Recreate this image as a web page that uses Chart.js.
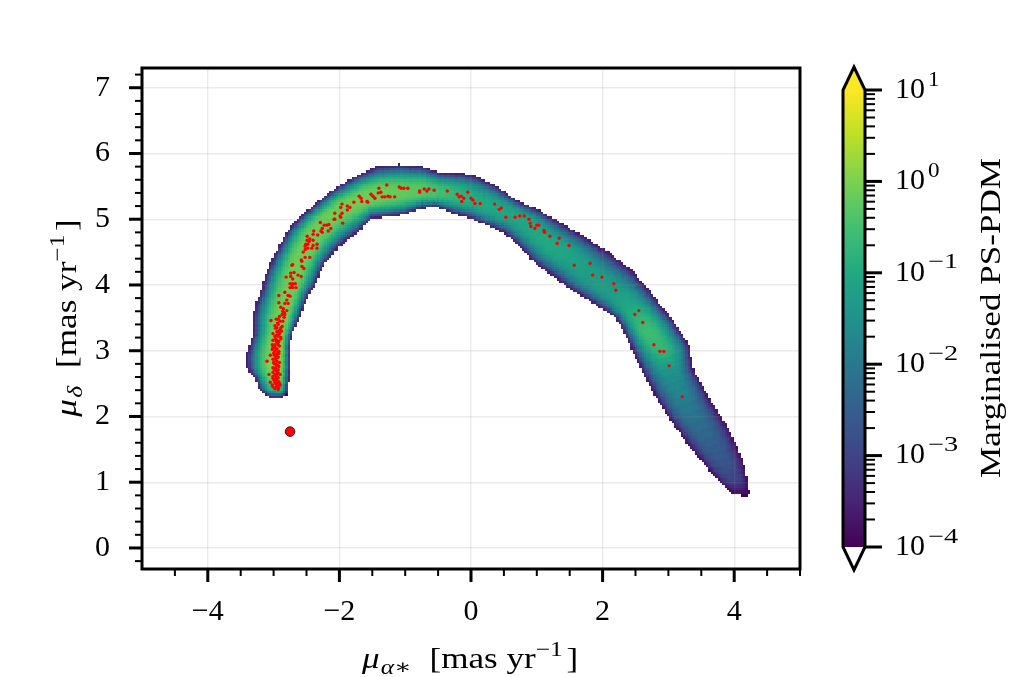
<!DOCTYPE html>
<html>
<head>
<meta charset="utf-8">
<style>
  html, body { margin: 0; padding: 0; background: #fff; overflow: hidden; }
  canvas { position: absolute; left: 0; top: 0; }
</style>
<script src="https://cdn.jsdelivr.net/npm/chart.js@4"></script>
</head>
<body>
<canvas id="main" width="1015" height="677"></canvas>
<canvas id="bar" width="1015" height="677"></canvas>
<script>
// axis ticks
const xMajor = [-4, -2, 0, 2, 4];
const xLabels = ['−4', '−2', '0', '2', '4'];
const xMinor = [-4.5, -3.5, -3, -2.5, -1.5, -1, -0.5, 0.5, 1, 1.5, 2.5, 3, 3.5, 4.5, 5];
const yMajor = [0, 1, 2, 3, 4, 5, 6, 7];
const yMinor = [-0.2, 0.2, 0.4, 0.6, 0.8, 1.2, 1.4, 1.6, 1.8, 2.2, 2.4, 2.6, 2.8, 3.2, 3.4, 3.6, 3.8,
                4.2, 4.4, 4.6, 4.8, 5.2, 5.4, 5.6, 5.8, 6.2, 6.4, 6.6, 6.8, 7.2];
const cbMajor = [1e-4, 1e-3, 1e-2, 1e-1, 1, 10];
const cbExponents = ['−4', '−3', '−2', '−1', '0', '1'];
const cbMultiples = [2, 3, 4, 5, 6, 7, 8, 9];

// density band, read as cross sections: outer edge, ridge, inner edge, log10 density on the ridge
const outerX = [-3.12, -3.21, -3.28, -3.39, -3.40, -3.36, -3.30, -3.30, -3.27, -3.19, -3.12, -3.01, -2.80, -2.60, -2.14, -1.73, -1.43, -1.08, -0.73, -0.47, -0.12, 0.09, 0.40, 0.70, 1.05, 1.35, 1.70, 2.07, 2.42, 2.67, 2.87, 3.05, 3.30, 3.37, 3.60, 3.94, 4.13, 4.19, 4.21];
const outerY = [2.32, 2.42, 2.59, 2.74, 2.93, 3.08, 3.25, 3.51, 3.69, 3.89, 4.15, 4.39, 4.80, 5.03, 5.41, 5.66, 5.79, 5.82, 5.79, 5.70, 5.69, 5.64, 5.49, 5.27, 5.12, 4.94, 4.74, 4.50, 4.24, 3.96, 3.70, 3.48, 3.09, 2.71, 2.30, 1.75, 1.30, 0.99, 0.81];
const ridgeX = [-2.96, -2.96, -2.96, -2.95, -2.93, -2.92, -2.90, -2.86, -2.81, -2.75, -2.66, -2.57, -2.40, -2.22, -1.96, -1.57, -1.35, -1.08, -0.73, -0.47, -0.17, 0.06, 0.32, 0.59, 0.90, 1.20, 1.50, 1.81, 2.14, 2.39, 2.57, 2.71, 2.93, 3.05, 3.25, 3.60, 3.86, 4.01, 4.09];
const ridgeY = [2.30, 2.41, 2.59, 2.79, 2.99, 3.14, 3.32, 3.52, 3.70, 3.93, 4.21, 4.44, 4.77, 4.97, 5.17, 5.34, 5.38, 5.40, 5.43, 5.40, 5.35, 5.29, 5.18, 5.08, 4.89, 4.62, 4.42, 4.13, 3.89, 3.66, 3.45, 3.25, 2.97, 2.64, 2.18, 1.65, 1.22, 0.99, 0.81];
const innerX = [-2.83, -2.80, -2.78, -2.77, -2.77, -2.77, -2.74, -2.64, -2.57, -2.49, -2.36, -2.25, -2.04, -1.88, -1.72, -1.50, -1.26, -1.03, -0.73, -0.52, -0.24, -0.02, 0.26, 0.52, 0.71, 0.97, 1.23, 1.58, 1.96, 2.20, 2.29, 2.39, 2.52, 2.72, 2.98, 3.33, 3.63, 3.81, 3.98];
const innerY = [2.32, 2.38, 2.59, 2.79, 2.99, 3.08, 3.23, 3.45, 3.63, 3.83, 4.04, 4.30, 4.56, 4.70, 4.80, 5.03, 5.05, 5.08, 5.18, 5.20, 5.09, 5.03, 4.91, 4.79, 4.62, 4.34, 4.15, 3.90, 3.67, 3.51, 3.37, 3.17, 2.87, 2.47, 2.03, 1.54, 1.19, 0.98, 0.82];
const ridgeLog = [-3.5, -0.7, 0.05, 0.1, 0.1, 0.05, 0, -0.05, -0.1, -0.1, -0.1, -0.1, -0.1, -0.1, -0.1, -0.1, -0.1, -0.2, -0.3, -0.5, -0.75, -0.9, -1.0, -1.05, -1.0, -0.95, -1.1, -1.2, -1.25, -1.0, -0.7, -0.55, -0.75, -1.5, -1.9, -2.4, -2.7, -3.0, -3.8];

// stars
const starX = [-1.28, -1.40, -1.70, -1.67, -1.66, -1.58, -1.57, -1.52, -1.49, -1.46, -1.41, -1.37, -1.35, -1.31, -1.26, -1.23, -1.16, -1.78, -1.96, -1.88, -1.84, -1.98, -1.88, -1.96, -2.07, -1.99, -1.98, -2.08, -2.07, -1.95, -2.29, -2.23, -2.19, -2.16, -2.13, -2.17, -2.26, -2.28, -2.26, -2.39, -2.40, -2.33, -2.49, -2.49, -2.45, -2.40, -2.46, -2.51, -2.48, -2.52, -2.40, -2.34, -2.34, -2.42, -2.48, -2.52, -2.55, -2.45, -2.52, -2.58, -2.57, -2.71, -2.72, -2.57, -2.54, -2.74, -2.69, -2.63, -2.58, -2.74, -2.81, -2.71, -2.75, -2.71, -2.67, -2.75, -2.71, -2.66, -2.72, -2.78, -2.75, -2.92, -2.83, -2.92, -2.80, -2.83, -2.78, -2.86, -2.80, -2.87, -2.83, -2.84, -3.04, -2.96, -2.90, -2.86, -2.98, -2.93, -2.87, -2.90, -3.01, -2.95, -2.90, -2.98, -2.93, -2.89, -3.01, -2.95, -2.92, -3.02, -2.98, -2.93, -3.01, -3.02, -2.95, -3.05, -2.99, -2.95, -2.93, -3.01, -2.98, -3.10, -2.95, -2.99, -2.96, -2.92, -3.01, -2.98, -3.01, -2.95, -3.07, -2.98, -2.95, -3.01, -2.96, -2.93, -2.99, -2.95, -2.92, -3.02, -2.98, -2.95, -3.01, -2.96, -2.92, -2.93, -2.98, -3.05, -2.93, -2.90, -3.01, -2.96, -2.93, -2.90, -2.99, -2.96, -2.92, -2.98, -2.93, -2.84, -2.95, -2.92, -2.96, -2.99, -2.89, -2.97, -2.94, -2.91, -2.99, -2.96, -2.93, -2.97, -2.94, -3.00, -2.91, -2.97, -2.94, -3.00, -2.92, -2.96, -2.98, -2.91, -2.94, -2.97, -2.89, -2.95, -2.92, -2.97, -2.88, -2.94, -2.91, -2.85, -2.89, -1.09, -1.06, -1.02, -0.96, -0.78, -0.78, -0.71, -0.67, -0.64, -0.56, -0.36, -0.21, -0.15, -0.18, -0.11, -0.14, -0.05, 0.00, 0.03, 0.06, 0.14, 0.36, 0.46, 0.43, 0.53, 0.67, 0.74, 0.81, 0.88, 0.90, 0.91, 1.00, 1.03, 0.97, 1.11, 1.12, 1.20, 1.34, 1.31, 1.49, 1.57, 1.81, 1.85, 1.99, 2.17, 2.20, 2.55, 2.49, 2.61, 2.78, 2.87, 2.93, 3.01, 3.21];
const starY = [5.52, 5.47, 5.35, 5.32, 5.27, 5.27, 5.26, 5.38, 5.35, 5.32, 5.40, 5.41, 5.34, 5.34, 5.35, 5.34, 5.34, 5.26, 5.23, 5.20, 5.18, 5.18, 5.14, 5.09, 5.09, 5.05, 5.03, 5.00, 5.00, 4.94, 4.95, 4.91, 4.91, 4.92, 4.86, 4.82, 4.86, 4.82, 4.80, 4.82, 4.77, 4.76, 4.74, 4.68, 4.70, 4.68, 4.66, 4.62, 4.62, 4.59, 4.60, 4.62, 4.56, 4.56, 4.56, 4.54, 4.50, 4.42, 4.42, 4.38, 4.36, 4.31, 4.30, 4.28, 4.25, 4.18, 4.19, 4.15, 4.13, 4.13, 4.12, 4.09, 4.02, 4.02, 4.02, 3.96, 3.96, 3.96, 3.98, 3.84, 3.83, 3.84, 3.89, 3.73, 3.77, 3.72, 3.72, 3.60, 3.61, 3.55, 3.55, 3.51, 3.46, 3.48, 3.45, 3.45, 3.38, 3.40, 3.37, 3.32, 3.26, 3.29, 3.28, 3.22, 3.22, 3.20, 3.16, 3.16, 3.14, 3.09, 3.09, 3.09, 3.05, 3.02, 3.03, 2.93, 2.93, 2.94, 2.90, 2.87, 2.87, 2.84, 2.84, 2.80, 2.79, 2.76, 2.74, 2.73, 2.67, 2.68, 2.64, 2.64, 2.64, 2.61, 2.59, 2.59, 2.55, 2.55, 2.53, 2.48, 2.52, 2.48, 2.45, 2.45, 2.44, 2.41, 2.42, 2.52, 2.52, 2.48, 2.58, 2.70, 2.71, 2.64, 2.71, 2.90, 2.99, 2.99, 3.48, 3.58, 3.35, 3.25, 3.14, 3.05, 3.35, 2.50, 2.46, 2.50, 2.56, 2.62, 2.66, 2.74, 2.78, 2.82, 2.82, 2.88, 2.96, 2.96, 2.96, 3.02, 3.07, 3.07, 3.12, 3.18, 3.18, 3.24, 3.30, 3.34, 3.30, 3.42, 3.52, 3.64, 3.66, 5.49, 5.47, 5.47, 5.47, 5.43, 5.41, 5.46, 5.43, 5.46, 5.44, 5.43, 5.38, 5.35, 5.34, 5.32, 5.27, 5.41, 5.32, 5.29, 5.24, 5.24, 5.23, 5.17, 5.15, 5.03, 5.03, 5.05, 5.05, 5.00, 4.94, 4.89, 4.91, 4.91, 4.86, 4.83, 4.80, 4.74, 4.71, 4.63, 4.60, 4.30, 4.33, 4.15, 4.12, 4.02, 3.92, 3.61, 3.55, 3.43, 3.09, 2.99, 2.99, 2.77, 2.30];
const clusterX = [-2.75];
const clusterY = [1.77];

const viridisStops = ['#440154', '#482475', '#414487', '#355f8d', '#2a788e', '#21918c', '#22a884', '#44bf70', '#7ad151', '#bddf26', '#fde725'];

const serif = '"Liberation Serif", "DejaVu Serif", serif';
const INK = '#000';

function hexToRgb(h) {
    return [parseInt(h.slice(1, 3), 16), parseInt(h.slice(3, 5), 16), parseInt(h.slice(5, 7), 16)];
}

function viridis(t) {
    t = Math.max(0, Math.min(1, t)) * (viridisStops.length - 1);
    const i = Math.min(Math.floor(t), viridisStops.length - 2);
    const a = hexToRgb(viridisStops[i]), b = hexToRgb(viridisStops[i + 1]), f = t - i;
    return `rgb(${a.map((v, k) => Math.round(v + (b[k] - v) * f)).join(',')})`;
}

// tone between 0 (edge) and the ridge value, dropping fast near the edge
function tone(peakLog, u) {
    const peak = (peakLog + 4) / 5;
    const floor = Math.min(0.03, peak);
    return peak - (peak - floor) * Math.pow(1 - u, 2.6);
}

function quad(g, pts, color) {
    g.fillStyle = color;
    g.strokeStyle = color;
    g.lineWidth = 0.6;
    g.lineJoin = 'round';
    g.beginPath();
    pts.forEach((p, i) => i ? g.lineTo(p[0], p[1]) : g.moveTo(p[0], p[1]));
    g.closePath();
    g.fill();
    g.stroke();
}

// paint the band on a coarse grid so it keeps the blocky edge of a 2d histogram
function drawBand(chart) {
    const sx = chart.scales.x, sy = chart.scales.y;
    const cell = 2.3;
    const off = document.createElement('canvas');
    off.width = Math.ceil(chart.width / cell);
    off.height = Math.ceil(chart.height / cell);
    const g = off.getContext('2d');
    const P = (x, y) => [sx.getPixelForValue(x) / cell, sy.getPixelForValue(y) / cell];
    const steps = 4, strips = 14;
    const mix = (a, b, f) => a + (b - a) * f;
    const side = (ex, ey, i, f, u) => {
        const ax = mix(ex[i], ex[i + 1], f), ay = mix(ey[i], ey[i + 1], f);
        const rx = mix(ridgeX[i], ridgeX[i + 1], f), ry = mix(ridgeY[i], ridgeY[i + 1], f);
        return P(mix(ax, rx, u), mix(ay, ry, u));
    };
    for (let i = 0; i < ridgeX.length - 1; i++) {
        for (let s = 0; s < steps; s++) {
            const f0 = s / steps, f1 = (s + 1) / steps;
            const peak = mix(ridgeLog[i], ridgeLog[i + 1], (f0 + f1) / 2);
            for (let k = 0; k < strips; k++) {
                const u0 = k / strips, u1 = (k + 1) / strips;
                const c = viridis(tone(peak, (u0 + u1) / 2));
                quad(g, [side(outerX, outerY, i, f0, u0), side(outerX, outerY, i, f1, u0), side(outerX, outerY, i, f1, u1), side(outerX, outerY, i, f0, u1)], c);
                quad(g, [side(innerX, innerY, i, f0, u0), side(innerX, innerY, i, f1, u0), side(innerX, innerY, i, f1, u1), side(innerX, innerY, i, f0, u1)], c);
            }
        }
    }
    const img = g.getImageData(0, 0, off.width, off.height);
    for (let p = 3; p < img.data.length; p += 4) img.data[p] = img.data[p] > 128 ? 255 : 0;
    g.putImageData(img, 0, 0);
    const ctx = chart.ctx;
    ctx.save();
    ctx.imageSmoothingEnabled = false;
    ctx.drawImage(off, 0, 0, off.width * cell, off.height * cell);
    ctx.restore();
}

function drawTicks(ctx, scale, majors, horizontal, baseline, dir, majorLen, minorLen) {
    ctx.strokeStyle = INK;
    scale.ticks.forEach(t => {
        const isMajor = majors.includes(t.value);
        const pos = scale.getPixelForValue(t.value);
        ctx.lineWidth = isMajor ? 3 : 2;
        const len = isMajor ? majorLen : minorLen;
        ctx.beginPath();
        if (horizontal) { ctx.moveTo(pos, baseline); ctx.lineTo(pos, baseline + dir * len); }
        else { ctx.moveTo(baseline, pos); ctx.lineTo(baseline + dir * len, pos); }
        ctx.stroke();
    });
}

// mixed-size label written piece by piece, centred on (x, y); stretched a bit to the wider look of the original face
function drawLabel(ctx, pieces, x, y, rotation) {
    const stretch = 1.21;
    ctx.save();
    ctx.translate(x, y);
    ctx.rotate(rotation);
    ctx.scale(stretch, 1);
    ctx.fillStyle = INK;
    ctx.textBaseline = 'alphabetic';
    ctx.textAlign = 'left';
    let total = 0;
    pieces.forEach(p => { ctx.font = p.font; total += ctx.measureText(p.text).width + (p.gap || 0); });
    let at = -total / 2;
    pieces.forEach(p => {
        ctx.font = p.font;
        ctx.fillText(p.text, at, p.dy || 0);
        at += ctx.measureText(p.text).width + (p.gap || 0);
    });
    ctx.restore();
}

const big = `29px ${serif}`, bigItalic = `italic 29px ${serif}`;
const small = `21px ${serif}`, smallItalic = `italic 21px ${serif}`;
const unitPieces = [
    { text: '[mas yr', font: big },
    { text: '−1', font: small, dy: -12, gap: 3 },
    { text: ']', font: big }
];
const xTitle = [{ text: 'μ', font: bigItalic, gap: 1 }, { text: 'α∗', font: smallItalic, dy: 6, gap: 15 }, ...unitPieces];
const yTitle = [{ text: 'μ', font: bigItalic, gap: 1 }, { text: 'δ', font: smallItalic, dy: 6, gap: 15 }, ...unitPieces];

const framePlugin = {
    id: 'frame',
    beforeDraw(chart) { drawBand(chart); },
    afterDraw(chart) {
        const ctx = chart.ctx, a = chart.chartArea;
        ctx.save();
        drawTicks(ctx, chart.scales.x, xMajor, true, a.bottom, 1, 13, 7);
        drawTicks(ctx, chart.scales.y, yMajor, false, a.left, -1, 13, 7);
        ctx.strokeStyle = INK;
        ctx.lineWidth = 3;
        ctx.strokeRect(a.left, a.top, a.right - a.left, a.bottom - a.top);
        ctx.restore();
        drawLabel(ctx, xTitle, 470, 668, 0);
        drawLabel(ctx, yTitle, 76, 318, -Math.PI / 2);
    }
};

function setTicks(majors, minors) {
    return scale => {
        scale.ticks = [...majors, ...minors].sort((a, b) => a - b).map(v => ({ value: v }));
    };
}

new Chart(document.getElementById('main'), {
    type: 'scatter',
    data: {
        datasets: [
            {
                label: 'stars',
                data: starX.map((x, i) => ({ x, y: starY[i] })),
                backgroundColor: '#ff0000',
                borderWidth: 0,
                pointRadius: 1.7
            },
            {
                label: 'cluster',
                data: clusterX.map((x, i) => ({ x, y: clusterY[i] })),
                backgroundColor: '#ff0000',
                borderColor: '#222',
                borderWidth: 1,
                pointRadius: 4.8
            }
        ]
    },
    options: {
        responsive: false,
        animation: false,
        devicePixelRatio: 1,
        layout: { padding: { top: 68, right: 215, left: 0, bottom: 0 } },
        plugins: { legend: { display: false }, tooltip: { enabled: false } },
        scales: {
            x: {
                type: 'linear', min: -5, max: 5,
                afterBuildTicks: setTicks(xMajor, xMinor),
                afterFit: s => { s.height = 108; },
                border: { display: false },
                grid: {
                    drawTicks: false,
                    lineWidth: 1.4,
                    color: c => xMajor.includes(c.tick.value) ? 'rgba(130,130,130,0.16)' : 'transparent'
                },
                ticks: {
                    autoSkip: false, maxRotation: 0, padding: 25,
                    color: INK,
                    font: { family: serif, size: 30 },
                    callback: v => { const i = xMajor.indexOf(v); return i < 0 ? '' : xLabels[i]; }
                }
            },
            y: {
                type: 'linear', min: -0.32, max: 7.3,
                afterBuildTicks: setTicks(yMajor, yMinor),
                afterFit: s => { s.width = 142; },
                border: { display: false },
                grid: {
                    drawTicks: false,
                    lineWidth: 1.4,
                    color: c => yMajor.includes(c.tick.value) ? 'rgba(130,130,130,0.16)' : 'transparent'
                },
                ticks: {
                    autoSkip: false, padding: 32,
                    color: INK,
                    font: { family: serif, size: 30 },
                    callback: v => { const i = yMajor.indexOf(v); return i < 0 ? '' : String(yMajor[i]); }
                }
            }
        }
    },
    plugins: [framePlugin]
});

// colour bar
const cbMinor = cbMajor.slice(0, -1).flatMap(d => cbMultiples.map(m => d * m));

function barGradient(c) {
    const chart = c.chart;
    if (!chart.chartArea) return viridisStops[0];
    const a = chart.chartArea;
    const grad = chart.ctx.createLinearGradient(0, a.bottom, 0, a.top);
    viridisStops.forEach((col, i) => grad.addColorStop(i / (viridisStops.length - 1), col));
    return grad;
}

const barFrame = {
    id: 'barFrame',
    afterDraw(chart) {
        const ctx = chart.ctx, a = chart.chartArea, sy = chart.scales.y;
        const mid = (a.left + a.right) / 2;
        ctx.save();
        drawTicks(ctx, sy, cbMajor, false, a.right, 1, 17, 10);
        ctx.lineJoin = 'miter';
        ctx.beginPath();
        ctx.moveTo(a.left, a.top); ctx.lineTo(mid, a.top - 23); ctx.lineTo(a.right, a.top); ctx.closePath();
        ctx.fillStyle = viridisStops[viridisStops.length - 1];
        ctx.fill();
        ctx.beginPath();
        ctx.moveTo(a.left, a.bottom); ctx.lineTo(mid, a.bottom + 23); ctx.lineTo(a.right, a.bottom); ctx.closePath();
        ctx.fillStyle = '#fff';
        ctx.fill();
        ctx.beginPath();
        ctx.moveTo(a.left, a.bottom); ctx.lineTo(a.left, a.top); ctx.lineTo(mid, a.top - 23); ctx.lineTo(a.right, a.top);
        ctx.lineTo(a.right, a.bottom); ctx.lineTo(mid, a.bottom + 23); ctx.closePath();
        ctx.strokeStyle = INK;
        ctx.lineWidth = 3;
        ctx.stroke();
        // exponents sit after the "10" the axis writes
        ctx.fillStyle = INK;
        ctx.font = small;
        ctx.textAlign = 'left';
        ctx.textBaseline = 'middle';
        cbMajor.forEach((v, i) => {
            ctx.save();
            ctx.translate(928, sy.getPixelForValue(v) - 10);
            ctx.scale(cbExponents[i].length > 1 ? 1.35 : 1.1, 1);
            ctx.fillText(cbExponents[i], 0, 0);
            ctx.restore();
        });
        ctx.restore();
        drawLabel(ctx, [{ text: 'Marginalised PS-PDM', font: big }], 1000, 318, -Math.PI / 2);
    }
};

new Chart(document.getElementById('bar'), {
    type: 'bar',
    data: {
        labels: ['density'],
        datasets: [{
            data: [[1e-4, 10]],
            backgroundColor: barGradient,
            borderWidth: 0,
            barPercentage: 1,
            categoryPercentage: 1
        }]
    },
    options: {
        responsive: false,
        animation: false,
        devicePixelRatio: 1,
        layout: { padding: { left: 843, top: 90, right: 0, bottom: 130 } },
        plugins: { legend: { display: false }, tooltip: { enabled: false } },
        scales: {
            x: { display: false },
            y: {
                type: 'logarithmic', position: 'right', min: 1e-4, max: 10,
                afterBuildTicks: setTicks(cbMajor, cbMinor),
                afterFit: s => { s.width = 150; },
                border: { display: false },
                grid: { display: false, drawTicks: false },
                ticks: {
                    autoSkip: false, padding: 30,
                    color: INK,
                    font: { family: serif, size: 30 },
                    callback: v => cbMajor.includes(v) ? '10' : ''
                }
            }
        }
    },
    plugins: [barFrame]
});
</script>
</body>
</html>
